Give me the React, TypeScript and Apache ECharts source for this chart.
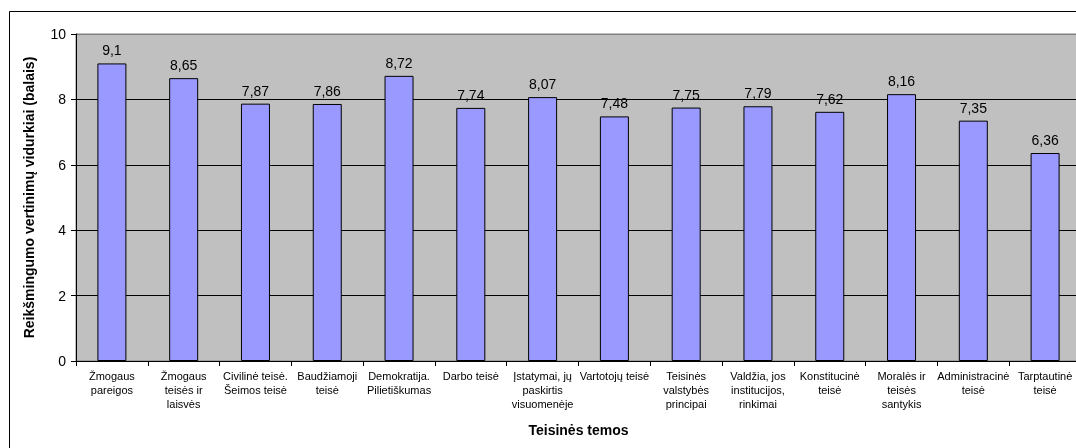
import React, { useEffect, useRef } from "react";
import * as echarts from "echarts";

const categories = [
  "Žmogaus\npareigos",
  "Žmogaus\nteisės ir\nlaisvės",
  "Civilinė teisė.\nŠeimos teisė",
  "Baudžiamoji\nteisė",
  "Demokratija.\nPilietiškumas",
  "Darbo teisė",
  "Įstatymai, jų\npaskirtis\nvisuomenėje",
  "Vartotojų teisė",
  "Teisinės\nvalstybės\nprincipai",
  "Valdžia, jos\ninstitucijos,\nrinkimai",
  "Konstitucinė\nteisė",
  "Moralės ir\nteisės\nsantykis",
  "Administracinė\nteisė",
  "Tarptautinė\nteisė",
];

const values = [9.1, 8.65, 7.87, 7.86, 8.72, 7.74, 8.07, 7.48, 7.75, 7.79, 7.62, 8.16, 7.35, 6.36];

const yTicks = [0, 2, 4, 6, 8, 10];

const yAxisTitle = "Reikšmingumo vertinimų vidurkiai (balais)";
const xAxisTitle = "Teisinės temos";

const FONT = 'Arial, "Liberation Sans", sans-serif';

export default function App() {
  const ref = useRef<HTMLDivElement>(null);
  useEffect(() => {
    if (!ref.current) return;
    const chart = echarts.init(ref.current, undefined, { renderer: "svg" });
    chart.setOption({
      animation: false,
      textStyle: { fontFamily: FONT },
      graphic: [
        {
          type: "rect",
          shape: { x: 1.5, y: 3.5, width: 1300, height: 700 },
          style: { fill: "none", stroke: "#000", lineWidth: 1 },
          z: -10,
        },
      ],
      grid: {
        left: 68,
        top: 26,
        width: 1005,
        height: 327,
        show: true,
        backgroundColor: "#C0C0C0",
        borderColor: "#808080",
        borderWidth: 1,
      },
      xAxis: {
        type: "category",
        data: categories,
        name: xAxisTitle,
        nameLocation: "middle",
        nameGap: 62,
        nameTextStyle: { fontFamily: FONT, fontSize: 14, fontWeight: "bold", color: "#000" },
        axisLine: { lineStyle: { color: "#000", width: 1 } },
        axisTick: { show: true, length: 5, lineStyle: { color: "#000" } },
        axisLabel: {
          interval: 0,
          margin: 8,
          fontFamily: FONT,
          fontSize: 11,
          lineHeight: 14,
          color: "#000",
          align: "center",
        },
      },
      yAxis: {
        type: "value",
        min: 0,
        max: 10,
        interval: 2,
        name: yAxisTitle,
        nameLocation: "middle",
        nameGap: 40,
        nameTextStyle: { fontFamily: FONT, fontSize: 14, fontWeight: "bold", color: "#000" },
        axisLine: { show: true, lineStyle: { color: "#000", width: 1 } },
        axisTick: { show: true, length: 5, lineStyle: { color: "#000" } },
        axisLabel: {
          fontFamily: FONT,
          fontSize: 14,
          color: "#000",
          margin: 10,
          formatter: (v: number) => (yTicks.includes(v) ? String(v) : ""),
        },
        splitLine: {
          show: true,
          lineStyle: { color: ["#000", "#000", "#000", "#000", "#000", "#808080"], width: 1 },
        },
      },
      series: [
        {
          type: "bar",
          data: values,
          barWidth: 29,
          itemStyle: { color: "#9999FF", borderColor: "#000", borderWidth: 1 },
          label: {
            show: true,
            position: "top",
            distance: 6,
            fontFamily: FONT,
            fontSize: 14,
            color: "#000",
            formatter: (p: any) => String(p.value).replace(".", ","),
          },
        },
      ],
    });
    return () => chart.dispose();
  }, []);
  return (
    <div
      style={{
        position: "fixed",
        left: 8,
        top: 8,
        width: 1068,
        height: 440,
        overflow: "hidden",
      }}
    >
      <div ref={ref} style={{ width: 1100, height: 470 }} />
    </div>
  );
}
